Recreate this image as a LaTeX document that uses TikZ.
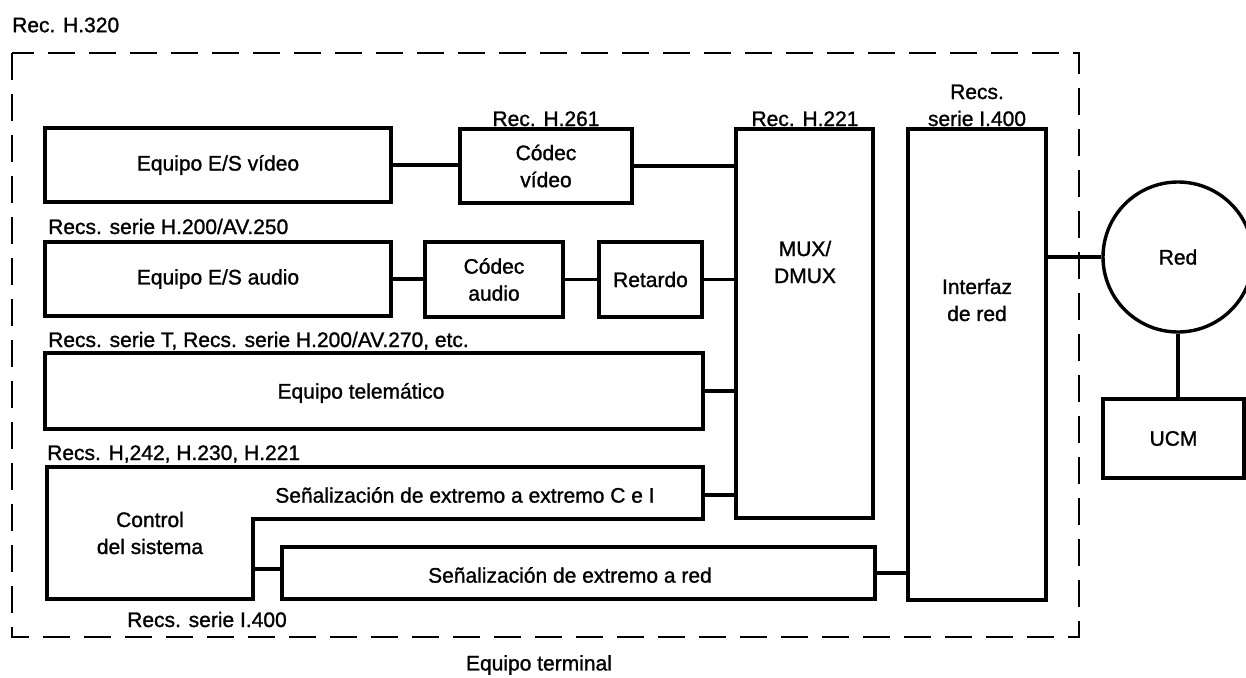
\documentclass[tikz,border=0pt]{standalone}
\usepackage{fontspec}
\setmainfont[FakeBold=1.2]{Liberation Sans}
\begin{document}
\begin{tikzpicture}[x=1pt,y=-1pt,
  every node/.style={font=\fontsize{21}{27}\selectfont, inner sep=0pt},
  blk/.style={draw, line width=3.4pt, align=center},
  conn/.style={line width=3.4pt},
  frame/.style={line width=2.2pt, dash pattern=on 27pt off 14pt},
  lbl/.style={align=center}]
\useasboundingbox (0,0) rectangle (1246,677);

% outer dashed frame
\draw[frame] (12,53) rectangle (1079,637);

% boxes
\node[blk, minimum width=346pt, minimum height=74pt] (vid) at (218,165) {Equipo E/S vídeo};
\node[blk, minimum width=172pt, minimum height=74pt] (cvid) at (546,166) {Códec\\vídeo};
\node[blk, minimum width=137pt, minimum height=389pt] (mux) at (804.5,323.5) {};
\node[blk, minimum width=138pt, minimum height=471pt] (intf) at (977,364.5) {};
\node[blk, minimum width=346pt, minimum height=74pt] (aud) at (218,279) {Equipo E/S audio};
\node[blk, minimum width=138pt, minimum height=75pt] (caud) at (494,279.5) {Códec\\audio};
\node[blk, minimum width=103pt, minimum height=75pt] (ret) at (650.5,279.5) {Retardo};
\node[blk, minimum width=658pt, minimum height=76pt] (tele) at (374,391) {};
\node[blk, minimum width=593pt, minimum height=52pt] (senred) at (578.5,573) {};
\node[blk, minimum width=141pt, minimum height=79pt] (ucm) at (1173.5,438.5) {UCM};
\node[blk, circle, minimum size=150pt] (red) at (1178,257) {Red};

% control del sistema outline
\coordinate (ctlA) at (703,495);
\coordinate (ctlB) at (253,569);
\draw[conn, line join=miter] (47,467) -- (703,467) -- (703,519) -- (253,519) -- (253,599) -- (47,599) -- cycle;

% texts inside boxes
\node[lbl] (muxt) at (805,262) {MUX/\\DMUX};
\node[lbl] (intft) at (977,300) {Interfaz\\de red};
\node (telet) at (361,393) {Equipo telemático};
\node[lbl] (ctlt) at (150,533) {Control\\del sistema};
\node (ceit) at (465,495) {Señalización de extremo a extremo C e I};
\node (senredt) at (570,575) {Señalización de extremo a red};

% labels
\node[anchor=west] (h320) at (12,25) {Rec. H.320};
\node[anchor=base] (h261) at (546,126) {Rec. H.261};
\node[anchor=base] (h221) at (805,126) {Rec. H.221};
\node[anchor=base] (i400a) at (977,99) {Recs.};
\node[anchor=base] (i400b) at (977,126) {serie I.400};
\node[anchor=base west] (h250) at (48,234) {Recs. serie H.200/AV.250};
\node[anchor=base west] (h270) at (48,347) {Recs. serie T, Recs. serie H.200/AV.270, etc.};
\node[anchor=base west] (h242) at (47,460) {Recs. H,242, H.230, H.221};
\node[anchor=base] (i400c) at (207,627) {Recs. serie I.400};
\node (term) at (539,665) {Equipo terminal};

% connectors
\draw[conn] (vid.east) -- (vid.east -| cvid.west);
\draw[conn] (cvid.east) -- (cvid.east -| mux.west);
\draw[conn] (aud.east) -- (aud.east -| caud.west);
\draw[conn] (caud.east) -- (caud.east -| ret.west);
\draw[conn] (ret.east) -- (ret.east -| mux.west);
\draw[conn] (tele.east) -- (tele.east -| mux.west);
\draw[conn] (ctlA) -- (ctlA -| mux.west);
\draw[conn] (ctlB) -- (ctlB -| senred.west);
\draw[conn] (senred.east) -- (senred.east -| intf.west);
\draw[conn] (red.west) -- (red.west -| intf.east);
\draw[conn] (red.south) -- (red.south |- ucm.north);
\end{tikzpicture}
\end{document}
